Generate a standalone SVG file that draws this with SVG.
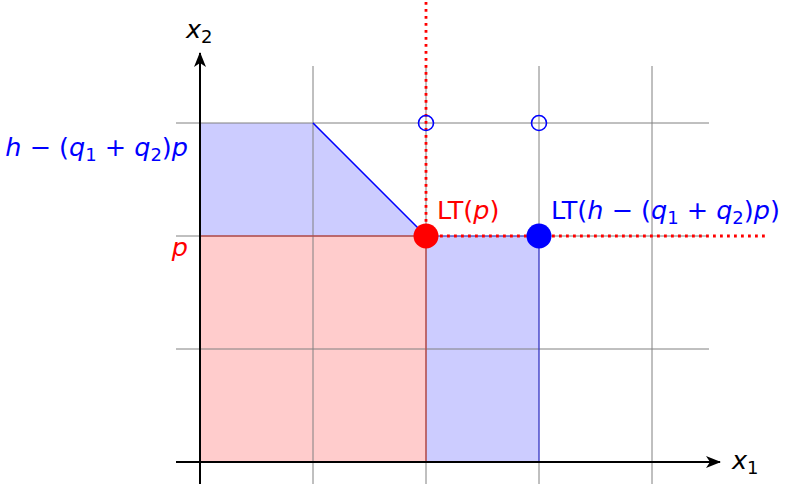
<svg xmlns="http://www.w3.org/2000/svg" width="786" height="484" viewBox="0 0 786 484">
<style>
.grid{stroke:#808080;stroke-width:1;fill:none}
.axis{stroke:#000;stroke-width:2;fill:none}
.dot{stroke:#ff0000;stroke-width:2.8;stroke-dasharray:2.8 4.2;fill:none}
text{font-family:"DejaVu Sans","Liberation Sans",sans-serif;font-size:25.5px}
.m{font-style:italic}
.red{fill:#ff0000}
.blue{fill:#0000ff}
</style>
<defs>
<marker id="arr" markerWidth="16" markerHeight="12" refX="14" refY="6" orient="auto" markerUnits="userSpaceOnUse">
<path d="M0,0 L15,6 L0,12 L4,6 Z" fill="#000"/>
</marker>
</defs>
<g id="regions">
<polygon points="200,123 313,123 426,236 539,236 539,462 200,462" fill="#ccccff" stroke="none"/>
<polygon points="200,236 426,236 426,462 200,462" fill="#ffcccc" stroke="none"/>
</g>
<g id="grid">
<line class="grid" x1="313" y1="66" x2="313" y2="484"/>
<line class="grid" x1="426" y1="66" x2="426" y2="484"/>
<line class="grid" x1="539" y1="66" x2="539" y2="484"/>
<line class="grid" x1="652" y1="66" x2="652" y2="484"/>
<line class="grid" x1="176" y1="123" x2="709" y2="123"/>
<line class="grid" x1="176" y1="236" x2="709" y2="236"/>
<line class="grid" x1="176" y1="349" x2="709" y2="349"/>
</g>
<g id="edges">
<polyline points="313,123 426,236 539,236 539,462" fill="none" stroke="#0000ff" stroke-width="1.2" stroke-opacity="0.6"/>
<line x1="313" y1="123" x2="426" y2="236" stroke="#0000ff" stroke-width="1.2"/>
<polyline points="200,236 426,236 426,462" fill="none" stroke="#c04040" stroke-width="1.5" stroke-opacity="0.8"/>
</g>
<g id="connectors">
<line class="axis" x1="176" y1="462" x2="720" y2="462" marker-end="url(#arr)"/>
<line class="axis" x1="200" y1="484" x2="200" y2="53" marker-end="url(#arr)"/>
<line class="dot" x1="426" y1="2" x2="426" y2="236"/>
<line class="dot" x1="426" y1="236" x2="766" y2="236"/>
</g>
<g id="open-circles">
<circle cx="426" cy="123" r="7.5" fill="none" stroke="#0000ff" stroke-width="1.6"/>
<circle cx="539" cy="123" r="7.5" fill="none" stroke="#0000ff" stroke-width="1.6"/>
</g>
<g id="node-LTp">
<circle cx="426" cy="236" r="12.5" fill="#ff0000"/>
<text x="437" y="219" class="red">LT(<tspan class="m">p</tspan>)</text>
</g>
<g id="node-LTh">
<circle cx="539" cy="236" r="12.5" fill="#0000ff"/>
<text x="551" y="219" class="blue">LT(<tspan class="m">h</tspan> − (<tspan class="m">q</tspan><tspan font-size="18" dy="5">1</tspan><tspan dy="-5"> + </tspan><tspan class="m">q</tspan><tspan font-size="18" dy="5">2</tspan><tspan dy="-5">)</tspan><tspan class="m">p</tspan>)</text>
</g>
<g id="labels">
<text x="188" y="156" class="blue" text-anchor="end"><tspan class="m">h</tspan> − (<tspan class="m">q</tspan><tspan font-size="18" dy="5">1</tspan><tspan dy="-5"> + </tspan><tspan class="m">q</tspan><tspan font-size="18" dy="5">2</tspan><tspan dy="-5">)</tspan><tspan class="m">p</tspan></text>
<text x="188" y="256" class="red m" text-anchor="end">p</text>
<text x="186" y="38"><tspan class="m">x</tspan><tspan font-size="18" dy="5">2</tspan></text>
<text x="732" y="469"><tspan class="m">x</tspan><tspan font-size="18" dy="5">1</tspan></text>
</g>
</svg>
